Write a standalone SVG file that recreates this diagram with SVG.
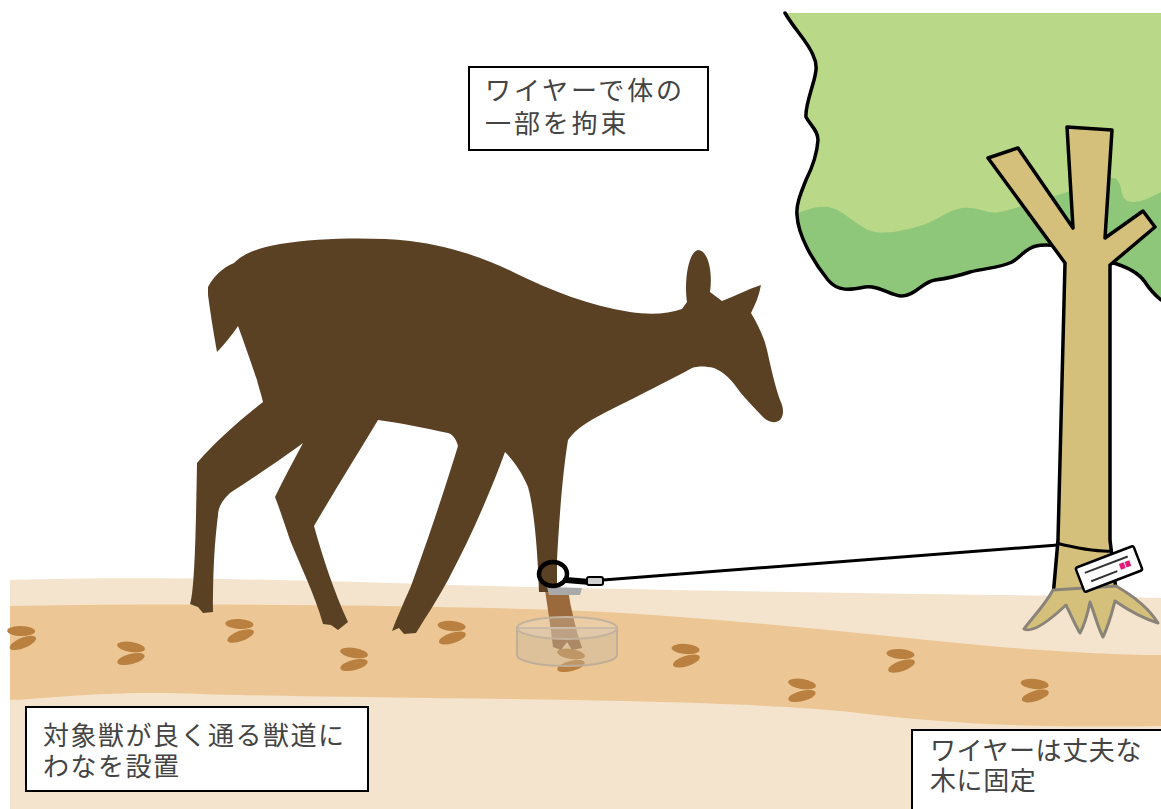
<svg xmlns="http://www.w3.org/2000/svg" width="1161" height="809" viewBox="0 0 1161 809">
  <style>
    .label-box { fill: #ffffff; stroke: #000000; stroke-width: 2; }
    .label-text { font-family: "Liberation Sans", "Noto Sans CJK JP", sans-serif; font-size: 26px; fill: #444444; letter-spacing: 1.5px; }
    .print { fill: #b9803f; }
    .outline { fill: none; stroke: #000000; stroke-width: 3.5; stroke-linejoin: round; stroke-linecap: round; }
  </style>
  <defs>
    <path id="crown-shape" d="M785,13 C795,30 808,42 813,55 C818,65 816,72 814,80 C810,95 805,108 806,117 C810,125 818,130 818,140 C817,155 812,168 806,180 C800,195 796,205 797,215 C798,235 812,260 828,280 C838,292 850,290 865,287 C880,285 890,296 902,296 C915,296 922,282 935,280 C950,278 958,276 970,272 C985,268 1000,268 1012,262 C1022,256 1026,248 1036,246 C1044,244 1050,245 1060,246 L1110,262 C1125,266 1138,272 1145,282 C1150,290 1155,295 1161,300 L1161,13 Z"/>
    <clipPath id="canopy-clip">
      <use href="#crown-shape"/>
    </clipPath>
    <!-- one hoof print: two cleaves -->
    <g id="hoof-print">
      <ellipse cx="0" cy="-6" rx="14" ry="5" transform="rotate(9 0 -6)"/>
      <ellipse cx="0" cy="6" rx="14" ry="5.2" transform="rotate(-14 0 6)"/>
    </g>
  </defs>

  <rect width="1161" height="809" fill="#ffffff"/>

  <!-- tree crown -->
  <g id="tree-crown">
    <use href="#crown-shape" fill="#b9d888"/>
    <path clip-path="url(#canopy-clip)" fill="#8ec77a" d="M780,218 C800,214 812,205 828,207 C842,209 852,222 868,230 C885,236 905,230 920,226 C935,222 948,210 962,208 C978,206 988,215 1000,212 C1020,208 1035,200 1050,197 C1070,192 1095,182 1112,178 C1122,178 1120,192 1124,198 C1130,206 1145,201 1161,192 L1161,320 L780,320 Z"/>
    <path class="outline" d="M785,13 C795,30 808,42 813,55 C818,65 816,72 814,80 C810,95 805,108 806,117 C810,125 818,130 818,140 C817,155 812,168 806,180 C800,195 796,205 797,215 C798,235 812,260 828,280 C838,292 850,290 865,287 C880,285 890,296 902,296 C915,296 922,282 935,280 C950,278 958,276 970,272 C985,268 1000,268 1012,262 C1022,256 1026,248 1036,246 C1044,244 1050,245 1060,246 L1110,262 C1125,266 1138,272 1145,282 C1150,290 1155,295 1161,300"/>
  </g>

  <!-- tree trunk and branches -->
  <g id="tree-trunk">
    <path fill="#d4c07b" d="M988,158 L1018,148 L1073,228 L1067,127 L1112,130 L1105,238 L1143,211 L1155,227 L1110,265 L1110,540 L1116,600 L1053,600 L1058,540 L1065,263 Z"/>
    <path class="outline" d="M1053,597 L1058,540 L1065,263 L988,158 L1018,148 L1073,228 L1067,127 L1112,130 L1105,238 L1143,211 L1155,227 L1110,265 L1110,540 L1116,590"/>
  </g>

  <!-- ground and animal trail -->
  <g id="ground">
    <path fill="#f5e4cd" d="M10,580 C150,576 300,580 450,585 C650,590 850,593 1000,595 C1080,596 1130,597 1161,598 L1161,809 L10,809 Z"/>
    <path fill="#ecc795" d="M10,606 C200,603 400,605 560,610 C700,615 850,633 1000,647 C1080,653 1130,655 1161,655 L1161,726 C1050,728 950,725 850,712 C700,697 400,700 200,694 C100,690 40,700 10,700 Z"/>
  </g>

  <!-- roots spreading on the ground -->
  <g id="tree-roots">
    <path fill="#d4c07b" stroke="#8a8478" stroke-width="3" stroke-linejoin="round" d="M1053,590 C1045,605 1032,618 1024,629 C1032,633 1048,622 1066,605 C1071,615 1075,625 1080,633 C1086,622 1088,612 1090,602 C1095,615 1098,628 1103,637 C1109,625 1112,612 1115,601 C1128,610 1145,619 1158,623 C1150,610 1135,597 1116,586 Z"/>
  </g>

  <!-- hoof prints along the trail -->
  <g id="hoof-prints" class="print">
    <use href="#hoof-print" transform="translate(22,637) rotate(-8)"/>
    <use href="#hoof-print" transform="translate(131,653)"/>
    <use href="#hoof-print" transform="translate(240,630) rotate(-6)"/>
    <use href="#hoof-print" transform="translate(354,659)"/>
    <use href="#hoof-print" transform="translate(452,632) rotate(-4)"/>
    <use href="#hoof-print" transform="translate(571,660)"/>
    <use href="#hoof-print" transform="translate(686,655) rotate(-4)"/>
    <use href="#hoof-print" transform="translate(802,690)"/>
    <use href="#hoof-print" transform="translate(901,660) rotate(-5)"/>
    <use href="#hoof-print" transform="translate(1035,690) rotate(-3)"/>
  </g>

  <!-- deer -->
  <g id="deer">
    <path fill="#9a6a3c" d="M545,590 L568,590 C571,610 576,630 582,648 L572,650 L567,642 L561,650 L553,647 C551,630 548,610 545,590 Z"/>
    <path fill="#5a4124" d="M208,287 C214,276 222,268 234,263 C244,253 258,248 280,244 C320,238 370,237 410,241 C450,246 485,258 515,273 C550,290 590,306 630,312 C650,315 668,314 682,309 L687,302 C684,282 688,252 698,250 C708,250 713,272 710,292 L722,301 C735,296 748,289 761,285 C759,296 755,305 751,313 C758,325 764,337 767,350 C771,368 775,386 780,400 C784,408 784,416 780,420 C775,424 768,422 763,417 C755,409 747,400 740,392 C732,380 724,372 714,368 C705,366 698,366 692,368 C670,380 640,395 612,409 C592,419 576,428 568,440 C563,470 559,520 557,560 L557,592 L539,592 C538,560 535,512 528,487 C522,472 513,460 505,452 C492,488 472,535 448,580 C436,602 424,620 416,633 L404,634 L399,628 L392,631 C396,620 403,604 411,586 C426,545 444,492 458,446 C456,438 452,434 448,433 C425,428 400,423 378,420 C360,450 335,490 314,526 C322,555 334,592 348,622 L338,630 L331,625 L323,624 C315,595 300,565 290,540 C285,525 280,510 275,497 C284,478 294,460 303,443 C280,460 250,480 230,493 C222,500 218,508 218,515 C215,540 213,565 213,612 L203,613 L198,607 L190,604 C195,590 196,520 197,463 C215,442 240,420 263,402 C260,390 258,385 257,380 C250,360 244,342 238,326 C232,335 224,345 217,352 C213,330 210,310 208,295 Z"/>
  </g>

  <!-- foot snare: cylinder, noose and clamp -->
  <g id="snare">
    <path d="M517,628 L517,655 A50,11 0 0 0 617,655 L617,628 Z" fill="#c8b8a6" fill-opacity="0.4" stroke="#bfae98" stroke-width="2"/>
    <ellipse cx="567" cy="628" rx="50" ry="11" fill="#e8dccb" fill-opacity="0.3" stroke="#c4b39c" stroke-width="2"/>
    <path d="M547,587 L582,588 L580,595 L549,595 Z" fill="#a9a9a9"/>
    <ellipse cx="553" cy="574" rx="14" ry="12" fill="none" stroke="#000000" stroke-width="4.5"/>
    <path d="M566,580 L590,582" stroke="#000000" stroke-width="6" stroke-linecap="round"/>
    <rect x="587" y="577" width="16" height="8" rx="2" fill="#cfcfcf" stroke="#000000" stroke-width="2"/>
  </g>

  <g id="connectors">
    <path d="M603,580 C750,568 900,556 1058,545" fill="none" stroke="#000000" stroke-width="3"/>
    <path d="M1056,543 C1072,547 1095,552 1113,551" fill="none" stroke="#000000" stroke-width="3"/>
  </g>

  <!-- tag fixed on the trunk -->
  <g id="tag" transform="translate(1109,569) rotate(-21)">
    <rect x="-31" y="-13" width="62" height="26" rx="2" fill="#ffffff" stroke="#000000" stroke-width="2.5"/>
    <line x1="-24" y1="-5" x2="22" y2="-5" stroke="#333333" stroke-width="2"/>
    <line x1="-21" y1="5" x2="7" y2="5" stroke="#333333" stroke-width="2"/>
    <rect x="11" y="-1" width="5" height="6" fill="#e6197a"/>
    <rect x="17" y="-1" width="5" height="6" fill="#e6197a"/>
  </g>

  <g id="label-restrain">
    <rect class="label-box" x="469" y="67" width="239" height="83"/>
    <text class="label-text" style="letter-spacing:2.9px"><tspan x="485" y="100">ワイヤーで体の</tspan><tspan x="485" y="133">一部を拘束</tspan></text>
  </g>

  <g id="label-trail">
    <rect class="label-box" x="26" y="707" width="342" height="84"/>
    <text class="label-text"><tspan x="43" y="745">対象獣が良く通る獣道に</tspan><tspan x="43" y="776">わなを設置</tspan></text>
  </g>

  <g id="label-tree">
    <rect class="label-box" x="912" y="730" width="260" height="90"/>
    <text class="label-text" style="letter-spacing:0.6px"><tspan x="930" y="760">ワイヤーは丈夫な</tspan><tspan x="930" y="790">木に固定</tspan></text>
  </g>
</svg>
